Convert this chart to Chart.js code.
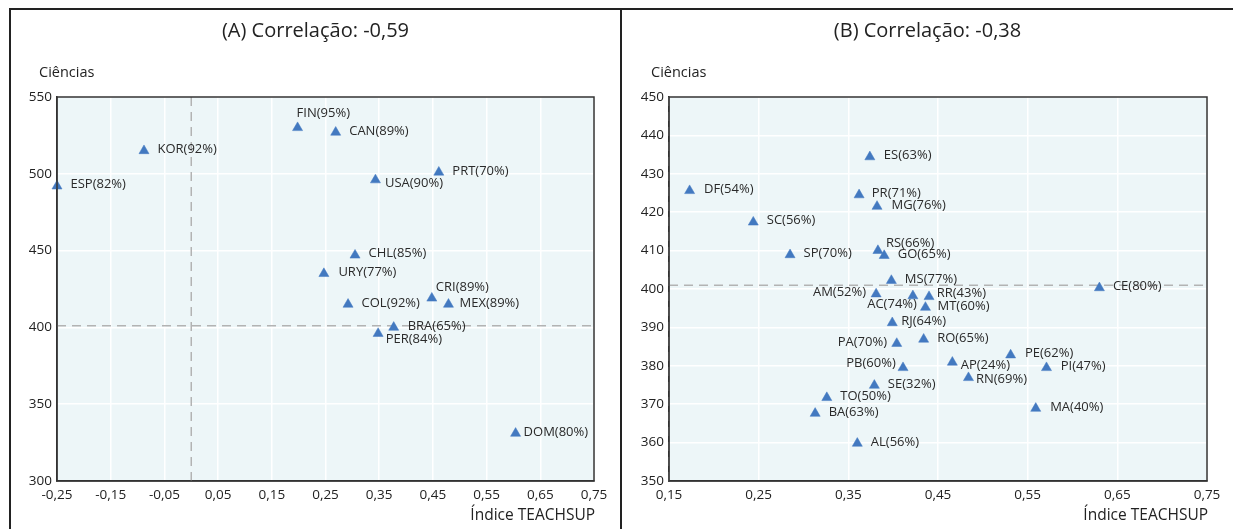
<!DOCTYPE html>
<html>
<head>
<meta charset="utf-8">
<title>Ciências e índice TEACHSUP</title>
<script src="https://cdn.jsdelivr.net/npm/chart.js@4.4.1/dist/chart.umd.min.js"></script>
<style>
  html, body { margin: 0; padding: 0; background: #fff; width: 1233px; height: 529px; overflow: hidden; }
  .panel { position: absolute; top: 0; width: 611px; height: 529px; }
  #panelA { left: 10px; }
  #panelB { left: 622px; }
  .rule { position: absolute; background: #222; }
</style>
</head>
<body>
<div class="rule" style="left:9px; top:8px; width:1224px; height:2px;"></div>
<div class="rule" style="left:9px; top:8px; width:2px; height:521px;"></div>
<div class="rule" style="left:620px; top:8px; width:2px; height:521px;"></div>
<div class="panel" id="panelA"><canvas id="chartA" width="611" height="529"></canvas></div>
<div class="panel" id="panelB"><canvas id="chartB" width="611" height="529"></canvas></div>

<script>
// ---- Panel A: países ----
const countriesA = ['ESP','KOR','FIN','CAN','PRT','USA','CHL','URY','CRI','COL','MEX','BRA','PER','DOM'];
const pctA       = [82, 92, 95, 89, 70, 90, 85, 77, 89, 92, 89, 65, 84, 80];
const teachsupA  = [-0.25, -0.088, 0.198, 0.269, 0.461, 0.343, 0.305, 0.247, 0.448, 0.292, 0.479, 0.377, 0.348, 0.604];
const cienciasA  = [492, 515, 530, 527, 501, 496, 447, 435, 419, 415, 415, 400, 396, 331];
const titleA = '(A) Correlação: -0,59';
const refA = { x: 0, y: 401 };

// ---- Panel B: unidades da federação ----
const statesB   = ['ES','DF','PR','MG','SC','RS','GO','SP','MS','AM','AC','RR','MT','RJ','PA','RO','PB','SE','TO','BA','AL','AP','PE','PI','RN','MA','CE'];
const pctB      = [63, 54, 71, 76, 56, 66, 65, 70, 77, 52, 74, 43, 60, 64, 70, 65, 60, 32, 50, 63, 56, 24, 62, 47, 69, 40, 80];
const teachsupB = [0.374, 0.173, 0.362, 0.382, 0.244, 0.383, 0.390, 0.285, 0.398, 0.381, 0.422, 0.440, 0.436, 0.399, 0.404, 0.434, 0.411, 0.379, 0.326, 0.313, 0.360, 0.466, 0.531, 0.571, 0.484, 0.559, 0.630];
const cienciasB = [434.4, 425.6, 424.5, 421.5, 417.4, 410.0, 408.7, 408.9, 402.2, 398.7, 398.2, 398.0, 395.2, 391.2, 385.8, 386.9, 379.5, 374.9, 371.7, 367.6, 359.8, 380.9, 382.8, 379.5, 376.9, 368.9, 400.3];
const titleB = '(B) Correlação: -0,38';
const refB = { x: 0.15, y: 401 };

// Label placement for each mark: [dx, dy, textAlign]
const R0 = [13.5, 0, 'left'];
const placeA = [R0, R0, [-1, -13, 'left'], R0, R0, [9.5, 4.5, 'left'], R0, [14.5, 0, 'left'], [4, -9, 'left'], R0, [11, 0, 'left'], [14, 0, 'left'], [7.5, 7, 'left'], [8, 0, 'left']];
const placeB = [[14, 0, 'left'], [14.5, 0, 'left'], [12.7, 0, 'left'], [14.5, 0, 'left'], R0, [8, -6.3, 'left'], R0, R0, R0,
                [-10, 0, 'right'], [4, 10, 'right'], [7.7, -1.7, 'left'], [12, 0, 'left'], [9, 0, 'left'], [-9.7, 0, 'right'],
                R0, [-7.3, -2.6, 'right'], R0, R0, R0, R0, [8.4, 4, 'left'], [14.3, 0, 'left'], [14.3, 0, 'left'], [7.4, 3.4, 'left'], [14.4, 0, 'left'], R0];

const FONT = '"Open Sans", "DejaVu Sans", sans-serif';
const MARK_R = 5.8;
const MARK_COLOR = '#4379c0';
const PLOT_BG = '#edf6f8';

Chart.defaults.font.family = FONT;
Chart.defaults.color = '#222';

const fmt = v => (Math.round(v * 100) / 100).toFixed(2).replace('.', ',');

const panelDecor = {
  id: 'panelDecor',
  beforeDraw(chart) {
    const { ctx, chartArea: a } = chart;
    ctx.save();
    ctx.fillStyle = PLOT_BG;
    ctx.fillRect(a.left, a.top, a.right - a.left, a.bottom - a.top);
    ctx.restore();
  },
  beforeDatasetsDraw(chart, args, opts) {
    const { ctx, chartArea: a, scales } = chart;
    const xr = scales.x.getPixelForValue(opts.ref.x);
    const yr = scales.y.getPixelForValue(opts.ref.y);
    ctx.save();
    ctx.strokeStyle = '#b3b3b3';
    ctx.lineWidth = 1.5;
    ctx.setLineDash([9, 6]);
    ctx.beginPath();
    ctx.moveTo(a.left, yr); ctx.lineTo(a.right, yr);
    ctx.moveTo(xr, a.top); ctx.lineTo(xr, a.bottom);
    ctx.stroke();
    ctx.restore();
  },
  afterDraw(chart, args, opts) {
    const { ctx, chartArea: a, width } = chart;
    ctx.save();
    // plot frame
    ctx.strokeStyle = '#333';
    ctx.lineWidth = 1.5;
    ctx.strokeRect(a.left, a.top, a.right - a.left, a.bottom - a.top);
    // texts
    ctx.fillStyle = '#222';
    ctx.textBaseline = 'middle';
    ctx.font = '20px ' + FONT;
    ctx.textAlign = 'center';
    ctx.fillText(opts.title, width / 2, 31);
    ctx.font = '14.5px ' + FONT;
    ctx.textAlign = 'left';
    ctx.fillText('Ciências', opts.yTitleX, 73);
    ctx.font = '15.5px ' + FONT;
    ctx.textAlign = 'right';
    ctx.fillText('Índice TEACHSUP', a.right + 1, 516);
    ctx.restore();
  }
};

const markLabels = {
  id: 'markLabels',
  afterDatasetsDraw(chart, args, opts) {
    const { ctx } = chart;
    const meta = chart.getDatasetMeta(0);
    ctx.save();
    ctx.font = '13px ' + FONT;
    ctx.fillStyle = '#2a2a2a';
    ctx.textBaseline = 'middle';
    meta.data.forEach((pt, i) => {
      const [dx, dy, align] = opts.place[i];
      ctx.textAlign = align;
      ctx.fillText(opts.labels[i], pt.x + dx, pt.y - MARK_R / 4 + dy);
    });
    ctx.restore();
  }
};

function makeChart(id, xs, ys, names, pcts, place, title, ref, xr, yr, padRight) {
  const points = xs.map((x, i) => ({ x, y: ys[i] }));
  const labels = names.map((n, i) => n + '(' + pcts[i] + '%)');
  return new Chart(document.getElementById(id), {
    type: 'scatter',
    data: {
      datasets: [{
        data: points,
        pointStyle: 'triangle',
        pointRadius: MARK_R,
        backgroundColor: MARK_COLOR,
        borderColor: MARK_COLOR,
        borderWidth: 0.5,
        clip: false
      }]
    },
    options: {
      responsive: false,
      animation: false,
      events: [],
      layout: { padding: { top: 97, left: 0, right: padRight, bottom: 0 } },
      plugins: {
        legend: { display: false },
        tooltip: { enabled: false },
        panelDecor: { title, ref, yTitleX: 29 },
        markLabels: { labels, place }
      },
      scales: {
        x: {
          type: 'linear',
          min: xr[0], max: xr[1],
          ticks: { stepSize: 0.1, padding: 6, font: { size: 13.5 }, color: '#222', callback: v => fmt(v), maxRotation: 0, autoSkip: false },
          grid: { color: '#ffffff', lineWidth: 1.5, drawTicks: false },
          border: { color: '#333', width: 1.5 },
          afterFit: s => { s.height = 48; }
        },
        y: {
          type: 'linear',
          min: yr[0], max: yr[1],
          ticks: { stepSize: yr[2], padding: 5, font: { size: 13.5 }, color: '#222' },
          grid: { color: '#ffffff', lineWidth: 1.5, drawTicks: false },
          border: { color: '#333', width: 1.5 },
          afterFit: s => { s.width = 47; }
        }
      }
    },
    plugins: [panelDecor, markLabels]
  });
}

makeChart('chartA', teachsupA, cienciasA, countriesA, pctA, placeA, titleA, refA, [-0.25, 0.75], [300, 550, 50], 27);
makeChart('chartB', teachsupB, cienciasB, statesB, pctB, placeB, titleB, refB, [0.15, 0.75], [350, 450, 10], 26);
</script>
</body>
</html>
